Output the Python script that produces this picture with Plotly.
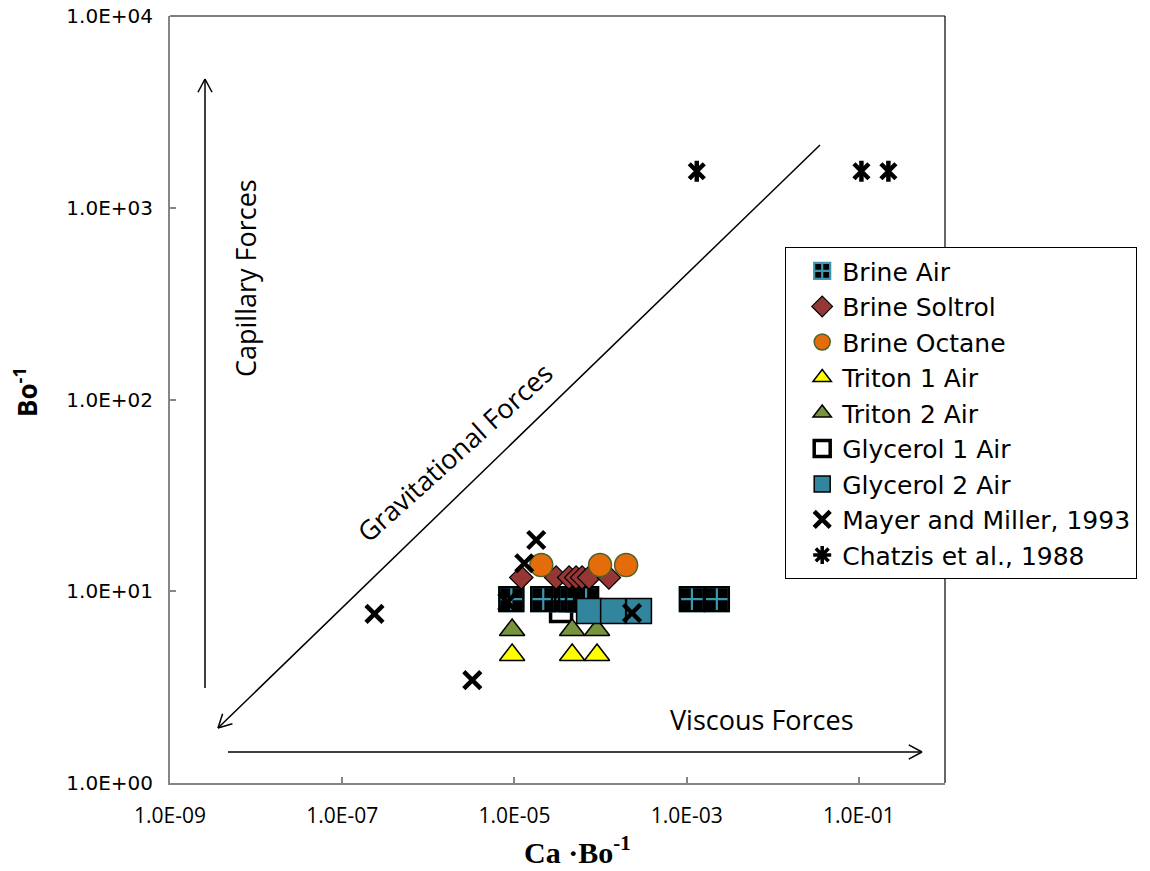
import math
import plotly.graph_objects as go

# ---------------- data ----------------
brine_air_x = [9.2e-6, 2.16e-5, 3.77e-5, 4.55e-5, 5.48e-5, 6.79e-5, 1.15e-3, 2.24e-3]
brine_air_y = [9.1, 9.1, 9.1, 9.1, 9.1, 9.1, 9.1, 9.1]

brine_soltrol_x = [1.2e-5, 3.05e-5, 4.31e-5, 5.2e-5, 6.1e-5, 7.36e-5, 1.25e-4]
brine_soltrol_y = [11.8, 11.8, 11.8, 11.8, 11.8, 11.8, 11.8]

brine_octane_x = [2.05e-5, 9.86e-5, 1.98e-4]
brine_octane_y = [13.7, 13.7, 13.7]

triton1_x = [9.4e-6, 4.68e-5, 9.1e-5]
triton1_y = [4.65, 4.65, 4.65]

triton2_x = [9.4e-6, 4.68e-5, 9.1e-5]
triton2_y = [6.28, 6.28, 6.28]

glycerol1_x = [3.48e-5]
glycerol1_y = [7.89]

glycerol2_x = [7.36e-5, 1.4e-4, 2.79e-4]
glycerol2_y = [7.89, 7.89, 7.89]

mayer_x = [2.37e-7, 3.24e-6, 8.26e-6, 1.3e-5, 1.79e-5, 2.32e-4]
mayer_y = [7.62, 3.44, 8.79, 14.0, 18.5, 7.7]

chatzis_x = [1.31e-3, 0.107, 0.22]
chatzis_y = [1550, 1550, 1550]

x_tickvals = [1e-9, 1e-7, 1e-5, 1e-3, 1e-1]
x_ticktext = ["1.0E-09", "1.0E-07", "1.0E-05", "1.0E-03", "1.0E-01"]
y_tickvals = [1, 10, 100, 1000, 10000]
y_ticktext = ["1.0E+00", "1.0E+01", "1.0E+02", "1.0E+03", "1.0E+04"]

# ---------------- layout geometry (page pixels) ----------------
W, H = 1150, 871
L, R, T, B = 170, 945, 16, 783   # plot area in page pixels


def pxx(p):
    return (p - L) / (R - L)


def pxy(p):
    return (B - p) / (B - T)


TEAL = "#31859C"
CROSS = "#3E97B0"
FONT = "Open Sans"

fig = go.Figure()


def add(name, x, y, symbol, size, color, lcolor="black", lwidth=1, rank=1, showlegend=True):
    fig.add_trace(go.Scatter(
        x=x, y=y, mode="markers", name=name, legendrank=rank, showlegend=showlegend,
        marker=dict(symbol=symbol, size=size, color=color,
                    line=dict(color=lcolor, width=lwidth)),
        hoverinfo="x+y+name",
    ))


add("Glycerol 1 Air", glycerol1_x, glycerol1_y, "square", 21, "white", "black", 3.5, rank=6)
add("Brine Air", brine_air_x, brine_air_y, "square-cross", 24, "black", CROSS, 2.2, rank=1)
add("Brine Air", brine_air_x, brine_air_y, "square-open", 24, "black", "black", 2.4, rank=100, showlegend=False)
add("Brine Soltrol", brine_soltrol_x, brine_soltrol_y, "diamond", 18, "#953735", "black", 1.2, rank=2)
add("Brine Octane", brine_octane_x, brine_octane_y, "circle", 23, "#E46C0A", "#4F6228", 1.5, rank=3)
add("Triton 1 Air", triton1_x, triton1_y, "triangle-up", 22, "#FFFF00", "black", 1.5, rank=4)
add("Triton 2 Air", triton2_x, triton2_y, "triangle-up", 22, "#77933C", "black", 1.5, rank=5)
add("Glycerol 2 Air", glycerol2_x, glycerol2_y, "square", 25, TEAL, "black", 1.5, rank=7)
add("Mayer and Miller, 1993", mayer_x, mayer_y, "x-thin", 17, "black", "black", 4.5, rank=8)
add("Chatzis et al., 1988", chatzis_x, chatzis_y, "x-thin", 15, "black", "black", 4.5, rank=102, showlegend=False)
add("Chatzis et al., 1988", chatzis_x, chatzis_y, "line-ns", 15, "black", "black", 4.5, rank=101, showlegend=False)
# legend-only entry for the asterisk symbol
add("Chatzis et al., 1988", [None], [None], "asterisk", 15, "black", "black", 3.5, rank=9)

# ---------------- decorative arrows ----------------
shapes = []


def seg(x0, y0, x1, y1, w=1.5, color="black"):
    shapes.append(dict(type="line", xref="paper", yref="paper",
                       x0=pxx(x0), y0=pxy(y0), x1=pxx(x1), y1=pxy(y1),
                       line=dict(color=color, width=w)))


def arrow(x0, y0, x1, y1, head=15, ang=28):
    seg(x0, y0, x1, y1)
    dx, dy = x0 - x1, y0 - y1
    n = math.hypot(dx, dy)
    ux, uy = dx / n, dy / n
    for s in (1, -1):
        a = math.radians(ang * s)
        hx = ux * math.cos(a) - uy * math.sin(a)
        hy = ux * math.sin(a) + uy * math.cos(a)
        seg(x1, y1, x1 + hx * head, y1 + hy * head)


arrow(205, 688, 205, 79)
arrow(820, 145, 218, 728)
arrow(228, 752, 922, 752)

# plot area border (top and right)
seg(L, T, R, T, w=1.2)
seg(R, T, R, B, w=1.2)

annotations = [
    dict(text="Capillary Forces", x=pxx(245), y=pxy(278), textangle=-90,
         font=dict(family=FONT, size=27, color="black")),
    dict(text="Gravitational Forces", x=pxx(454), y=pxy(452), textangle=-42,
         font=dict(family=FONT, size=27, color="black")),
    dict(text="Viscous Forces", x=pxx(762), y=pxy(719),
         font=dict(family=FONT, size=27, color="black")),
    dict(text="Ca ·Bo<sup>-1</sup>", x=pxx(577), y=pxy(850),
         font=dict(family="Liberation Serif", size=30, color="black", weight="bold")),
    dict(text="Bo<sup>-1</sup>", x=pxx(26), y=pxy(392), textangle=-90,
         font=dict(family=FONT, size=26, color="black", weight="bold")),
]
for a in annotations:
    a.update(xref="paper", yref="paper", showarrow=False, xanchor="center", yanchor="middle")

axis_common = dict(
    type="log", showgrid=False, zeroline=False, showline=True,
    linecolor="#868686", linewidth=2, ticks="inside", ticklen=6,
    tickcolor="#868686", tickwidth=1.5, ticklabeloverflow="allow",
)

fig.update_layout(
    width=W, height=H,
    margin=dict(l=L, r=W - R, t=T, b=H - B, autoexpand=False),
    plot_bgcolor="white", paper_bgcolor="white",
    xaxis=dict(axis_common, range=[-9, 0], tickvals=x_tickvals, ticktext=x_ticktext,
               tickfont=dict(family=FONT, size=21, color="black"), ticklabelstandoff=13),
    yaxis=dict(axis_common, range=[0, 4], tickvals=y_tickvals, ticktext=y_ticktext,
               tickfont=dict(family="DejaVu Sans", size=20, color="black"), ticklabelstandoff=11),
    shapes=shapes,
    annotations=annotations,
    showlegend=True,
    legend=dict(
        x=pxx(785), y=pxy(247), xanchor="left", yanchor="top",
        bgcolor="white", bordercolor="black", borderwidth=1.2,
        font=dict(family="DejaVu Sans", size=25, color="black"),
        itemwidth=30, indentation=16, traceorder="normal",
    ),
)

# remove the page's default 8px body margin so the figure sits at the window origin
fig.write_html("out.html", config={"displayModeBar": False},
               post_script="document.body.style.margin='0px';")
